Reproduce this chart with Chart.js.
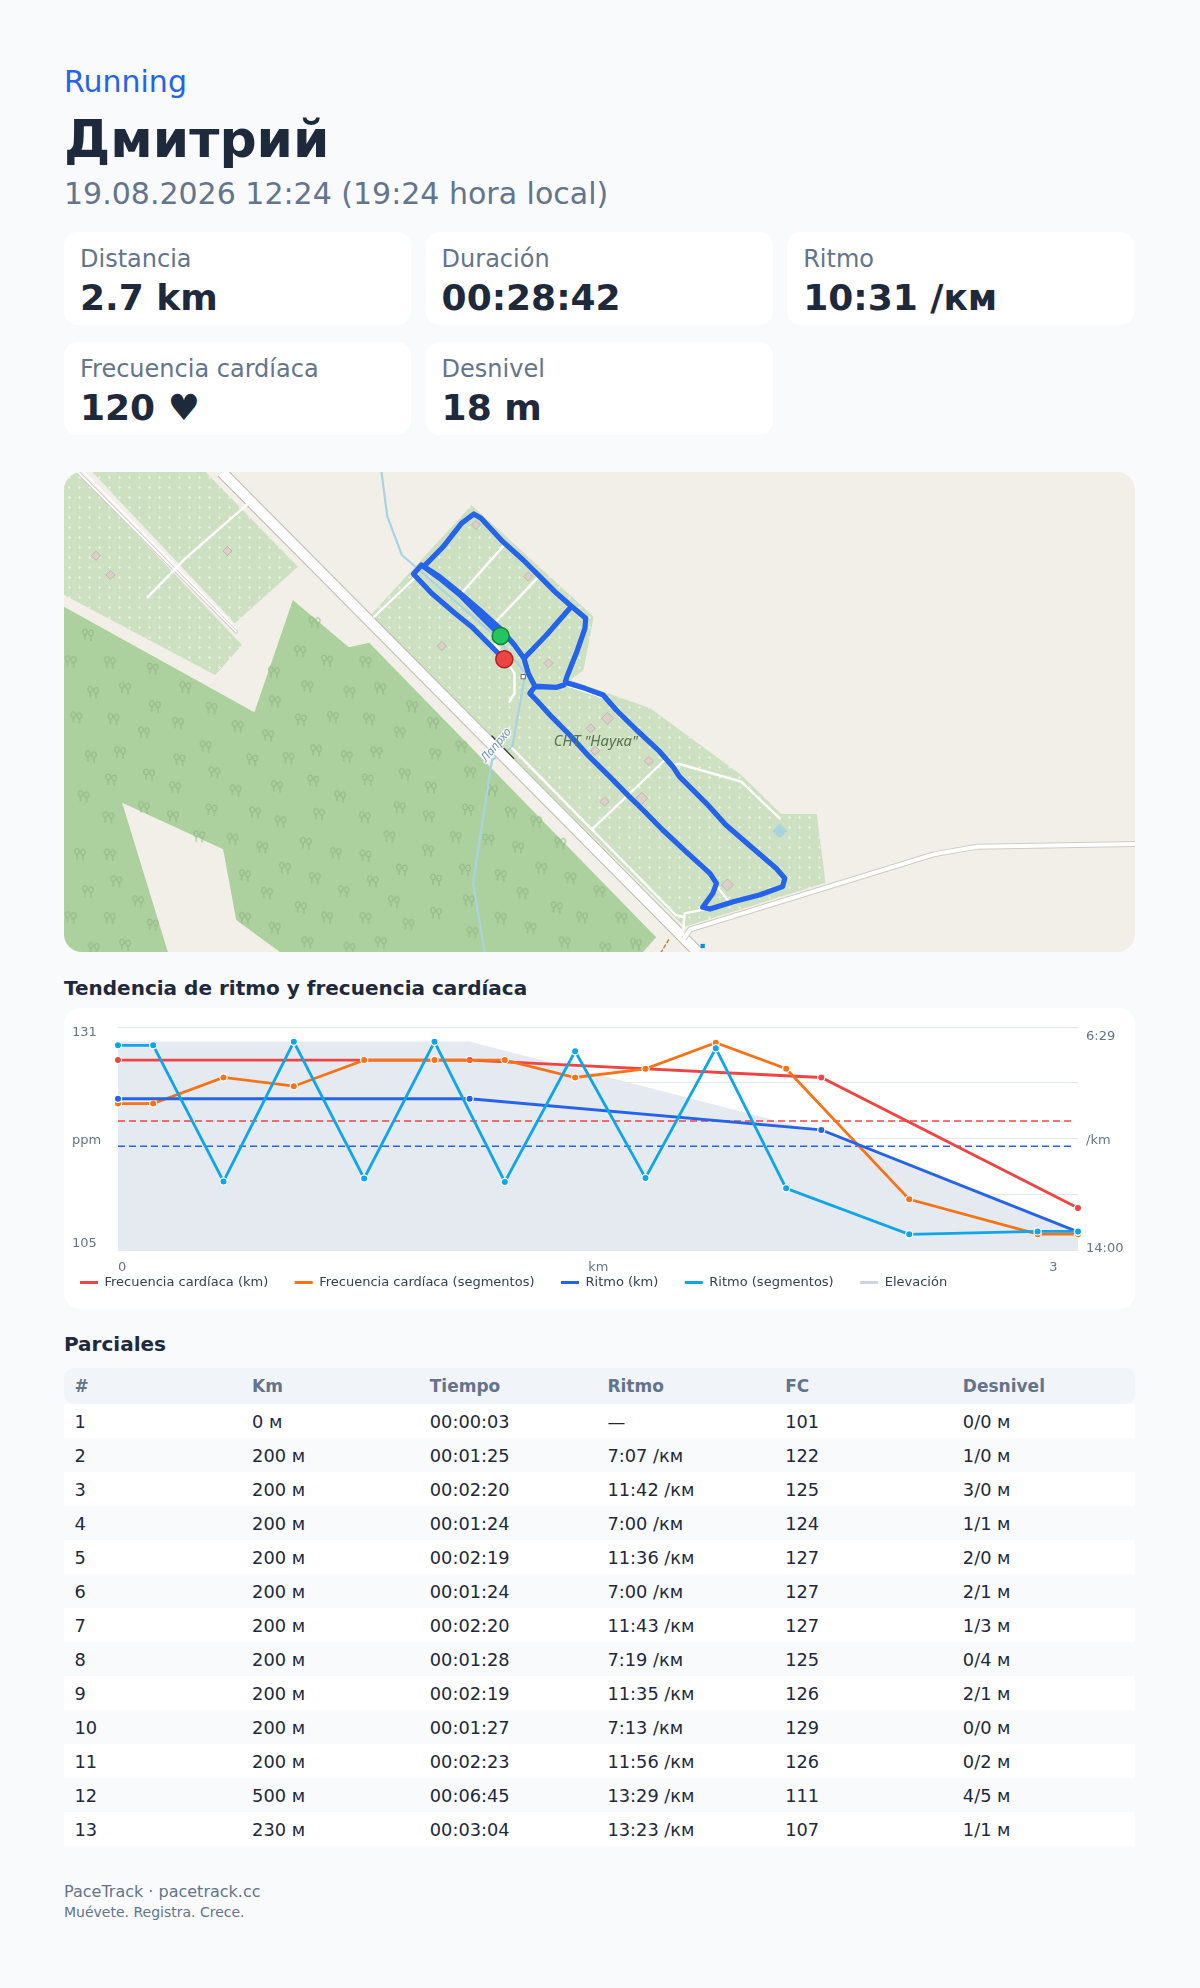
<!DOCTYPE html>
<html lang="es">
<head>
<meta charset="utf-8">
<title>Running</title>
<script src="https://cdn.jsdelivr.net/npm/chart.js@4/dist/chart.umd.min.js"></script>
<style>
  * { box-sizing: border-box; }
  html, body { margin: 0; background: #f8fafc; }
  body { width: 1200px; height: 1988px; padding: 64px 64px 0; font-family: "DejaVu Sans", sans-serif; color: #1e293b; overflow: hidden; }
  .sport { color: #2563eb; font-size: 30px; line-height: 36px; }
  h1 { margin: 11px 0 0; font-size: 52px; line-height: 56px; font-weight: 700; }
  .when { margin-top: 9px; color: #64748b; font-size: 30px; line-height: 36px; }
  .stats { display: grid; grid-template-columns: repeat(3, 347.2px); column-gap: 14.4px; row-gap: 17px; margin-top: 20px; }
  .stat { height: 93px; padding: 13px 16px; background: #fff; border-radius: 14px; }
  .stat .label { color: #64748b; font-size: 24px; line-height: 28px; }
  .stat .value { margin-top: 5px; font-size: 36px; line-height: 40px; font-weight: 700; }
  .map { position: relative; width: 1071px; height: 480px; margin-top: 37px; border-radius: 18px; overflow: hidden; background: #f2efe9; }
  h2 { margin: 0; font-size: 20px; line-height: 26px; font-weight: 700; }
  h2.trend { margin-top: 23px; }
  .chart-card { width: 1071px; height: 301px; margin-top: 7px; padding: 8px; background: #fff; border-radius: 16px; }
  h2.splits { margin-top: 22px; }
  table { width: 1071px; margin-top: 11px; border-collapse: collapse; table-layout: fixed; font-size: 17.8px; }
  th { width: 177.7px; height: 36px; padding: 0 10.4px; background: #f1f5f9; color: #64748b; font-size: 17px; text-align: left; font-weight: 700; }
  th:first-child { border-radius: 10px 0 0 10px; }
  th:last-child { width: auto; border-radius: 0 10px 10px 0; }
  td { height: 34px; padding: 0 10.4px; }
  tbody tr:nth-child(odd) { background: #fff; }
  .foot { margin-top: 35px; color: #64748b; font-size: 16px; line-height: 22px; }
  .foot small { display: block; font-size: 14px; line-height: 19px; }
</style>
</head>
<body>
  <div class="sport">Running</div>
  <h1>Дмитрий</h1>
  <div class="when">19.08.2026 12:24 (19:24 hora local)</div>
  <div class="stats" id="stats"></div>
  <div class="map"><canvas id="mapChart" width="1071" height="480"></canvas></div>
  <h2 class="trend">Tendencia de ritmo y frecuencia cardíaca</h2>
  <div class="chart-card"><canvas id="trendChart" width="1055" height="285"></canvas></div>
  <h2 class="splits">Parciales</h2>
  <table><thead id="splitsHead"></thead><tbody id="splitsBody"></tbody></table>
  <div class="foot">PaceTrack · pacetrack.cc<small>Muévete. Registra. Crece.</small></div>

<script>
// header cards
const statLabels = ['Distancia', 'Duración', 'Ritmo', 'Frecuencia cardíaca', 'Desnivel'];
const statValues = ['2.7 km', '00:28:42', '10:31 /км', '120 ♥', '18 m'];

// splits table
const splitColumns = ['#', 'Km', 'Tiempo', 'Ritmo', 'FC', 'Desnivel'];
const splitDist = ['0 м', '200 м', '200 м', '200 м', '200 м', '200 м', '200 м', '200 м', '200 м', '200 м', '200 м', '500 м', '230 м'];
const splitTime = ['00:00:03', '00:01:25', '00:02:20', '00:01:24', '00:02:19', '00:01:24', '00:02:20', '00:01:28', '00:02:19', '00:01:27', '00:02:23', '00:06:45', '00:03:04'];
const splitPace = ['—', '7:07 /км', '11:42 /км', '7:00 /км', '11:36 /км', '7:00 /км', '11:43 /км', '7:19 /км', '11:35 /км', '7:13 /км', '11:56 /км', '13:29 /км', '13:23 /км'];
const splitHr = [101, 122, 125, 124, 127, 127, 127, 125, 126, 129, 126, 111, 107];
const splitGain = ['0/0 м', '1/0 м', '3/0 м', '1/1 м', '2/0 м', '2/1 м', '1/3 м', '0/4 м', '2/1 м', '0/0 м', '0/2 м', '4/5 м', '1/1 м'];

// trend chart, km on x, pace in seconds per km
const kmPoints = [0, 1, 2, 2.73];
const hrByKm = [127, 127, 125, 110];
const paceByKm = [535, 535, 598, 804];
const elevationByKm = [18.7, 18.7, 10.6, 1.7];
const segmentPoints = [0, 0.1, 0.3, 0.5, 0.7, 0.9, 1.1, 1.3, 1.5, 1.7, 1.9, 2.25, 2.615, 2.73];
const hrBySegment = [122, 122, 125, 124, 127, 127, 127, 125, 126, 129, 126, 111, 107, 107];
const paceBySegment = [427, 427, 702, 420, 696, 420, 703, 439, 695, 433, 716, 809, 803, 803];
const avgHr = 120;
const avgPace = 631;
const xTickLabels = ['0', 'km', '3'];
const hrTickLabels = ['105', 'ppm', '131'];
const paceTickLabels = ['6:29', '/km', '14:00'];

// map, in picture units of the OSM render
const landLeft = [[33,36],[52,36],[278,555],[241,645],[33,405]];
const landRight = [[72,36],[228,36],[355,320],[268,490]];
const landMain = [[594,135],[762,470],[748,630],[730,660],[840,745],[965,945],[1020,1062],[1069,1062],[1081,1268],[887,1400],[453,470]];
const forest = [[33,440],[295,757],[348,420],[425,562],[453,548],[848,1432],[830,1476],[330,1476],[270,1380],[252,1168],[113,1028],[176,1476],[33,1476]];
const mainRoad = [[250,36],[905,1476]];
const sideRoad = [[1507,1152],[1290,1160],[1230,1183],[895,1408],[886,1436]];
const sideTrack = [[52,36],[270,515]];
const sideTrack2 = [[60,36],[270,505]];
const tracks = [
  [[288,128],[200,295],[148,412]],
  [[460,470],[520,345]],
  [[582,395],[637,260]],
  [[625,490],[684,355]],
  [[871,915],[880,912],[965,965],[1018,1075]],
  [[860,900],[761,1105]],
  [[650,865],[875,1365],[887,1372]],
  [[885,1425],[887,1360],[915,1348]],
  [[626,550],[653,640],[653,700],[646,725]],
  [[932,1280],[950,1330]],
  [[727,677],[775,712]]
];
const stream = [[470,36],[478,170],[498,285],[625,525],[668,640],[650,860],[622,900],[596,1270],[612,1476]];
const railCrossing = [[622,828],[652,895]];
const smallPath = [[865,1440],[855,1476]];
const route = [[634,528],[605,465],[578,405],[550,355],[528,320],[555,260],[580,190],[597,162],[607,175],[637,245],[665,300],[688,350],[711,400],[731,438],[751,475],[750,505],[738,580],[726,645],[723,665],[727,670],[750,685],[775,705],[793,750],[821,810],[853,875],[871,920],[880,950],[917,1030],[944,1095],[981,1165],[1013,1225],[1025,1255],[1022,1280],[990,1305],[954,1325],[922,1347],[912,1342],[926,1300],[931,1270],[922,1240],[889,1175],[857,1110],[830,1050],[811,1010],[784,950],[756,890],[729,825],[704,770],[683,720],[674,700],[681,680],[711,682],[721,675],[711,682],[681,678],[672,640],[666,595],[697,525],[731,440],[697,525],[666,595],[653,555],[633,505],[605,450],[578,400],[550,350],[525,315],[514,342],[539,400],[571,460],[594,500],[626,570],[639,598]];
const startPoint = [[634,528]];
const endPoint = [[639,598]];
const buildings = [[600,195],[672,350],[553,558],[700,610],[758,805],[764,872],[838,903],[777,1025],[97,345],[258,273],[77,287]];
const bigBuildings = [[781,775],[828,1015],[946,1275]];
const pond = [[1018,1113]];
const busStop = [[912,1458]];
const shelter = [[665,650]];
const trees = [[378,488],[66,525],[42,605],[96,608],[155,627],[73,697],[117,685],[200,683],[158,740],[236,745],[50,773],[101,778],[190,790],[143,818],[272,800],[322,637],[358,575],[395,603],[448,607],[368,680],[426,697],[468,686],[323,725],[512,740],[403,772],[359,780],[453,778],[541,790],[314,827],[495,818],[228,860],[110,878],[70,890],[192,900],[292,900],[342,895],[380,872],[422,890],[463,878],[544,883],[580,860],[240,938],[150,945],[98,960],[186,983],[269,992],[326,980],[376,963],[451,960],[502,943],[592,938],[60,1010],[413,1010],[538,983],[622,992],[143,1043],[94,1073],[183,1070],[236,1050],[296,1058],[384,1063],[495,1043],[447,1073],[535,1070],[589,1050],[648,1058],[331,1085],[683,1085],[265,1138],[306,1163],[366,1150],[219,1130],[481,1130],[572,1132],[617,1140],[716,1150],[534,1172],[407,1180],[448,1188],[658,1163],[55,1183],[96,1185],[337,1225],[378,1255],[282,1247],[458,1265],[498,1230],[545,1260],[585,1230],[634,1247],[690,1225],[730,1255],[105,1265],[66,1295],[418,1295],[664,1300],[770,1295],[135,1325],[312,1300],[487,1325],[590,1322],[711,1343],[359,1343],[545,1360],[42,1373],[96,1375],[155,1395],[282,1375],[395,1373],[448,1375],[507,1393],[634,1375],[675,1405],[746,1373],[800,1375],[323,1405],[368,1448],[117,1455],[74,1465],[426,1465],[469,1448],[595,1418],[722,1448],[778,1465],[820,1453]];
const mapLabels = ['СНТ "Наука"', 'Лапрхо'];

document.getElementById('stats').innerHTML = statLabels.map((label, i) =>
  `<div class="stat"><div class="label">${label}</div><div class="value">${statValues[i]}</div></div>`).join('');
document.getElementById('splitsHead').innerHTML = '<tr>' + splitColumns.map(c => `<th>${c}</th>`).join('') + '</tr>';
document.getElementById('splitsBody').innerHTML = splitDist.map((d, i) =>
  `<tr><td>${i + 1}</td><td>${d}</td><td>${splitTime[i]}</td><td>${splitPace[i]}</td><td>${splitHr[i]}</td><td>${splitGain[i]}</td></tr>`).join('');

// ---- trend chart ----
const xy = (xs, ys) => xs.map((x, i) => ({x, y: ys[i]}));
const tickFont = {family: '"DejaVu Sans"', size: 13};

function seriesLine(label, xs, ys, color, axis, order) {
  return {
    label, data: xy(xs, ys), yAxisID: axis, order, clip: false,
    borderColor: color, backgroundColor: color, borderWidth: 2.8,
    pointRadius: 3.6, pointBorderColor: '#fff', pointBorderWidth: 1.2, pointBackgroundColor: color
  };
}

function dashLine(label, value, color, axis) {
  return {
    label, data: xy([0, 2.72], [value, value]), yAxisID: axis, order: 3.5,
    borderColor: color, borderWidth: 1.5, borderDash: [7, 4], pointRadius: 0, isAverage: true
  };
}

// the legend starts further in than its item gap allows, so it is moved after layout
const legendPlace = {
  id: 'legendPlace',
  afterLayout(chart) {
    chart.legend.left = -18.5;
    chart.legend.top = 233.5;
  }
};

new Chart(document.getElementById('trendChart'), {
  type: 'line',
  plugins: [legendPlace],
  data: {
    datasets: [
      seriesLine('Frecuencia cardíaca (km)', kmPoints, hrByKm, '#ef4444', 'hr', 3),
      seriesLine('Frecuencia cardíaca (segmentos)', segmentPoints, hrBySegment, '#f97316', 'hr', 2),
      seriesLine('Ritmo (km)', kmPoints, paceByKm, '#2563eb', 'pace', 1),
      seriesLine('Ritmo (segmentos)', segmentPoints, paceBySegment, '#0ea5e9', 'pace', 0),
      {
        label: 'Elevación', data: xy(kmPoints, elevationByKm), yAxisID: 'elev', order: 4,
        backgroundColor: '#cbd5e1', borderWidth: 0, pointRadius: 0,
        fill: {target: 'origin', above: '#e5e9f0'}
      },
      dashLine('Media FC', avgHr, '#ef4444', 'hr'),
      dashLine('Media ritmo', avgPace, '#2563eb', 'pace')
    ]
  },
  options: {
    responsive: false,
    animation: false,
    layout: {autoPadding: false, padding: {top: 11, bottom: 0}},
    plugins: {
      tooltip: {enabled: false},
      legend: {
        position: 'bottom',
        align: 'start',
        maxHeight: 12,
        labels: {
          boxWidth: 18, boxHeight: 3, padding: 26.5, color: '#334155', font: tickFont,
          generateLabels: chart => Chart.defaults.plugins.legend.labels.generateLabels(chart).map(l => ({...l, lineWidth: 0})),
          filter: (item, data) => !data.datasets[item.datasetIndex].isAverage,
          sort: (a, b) => a.datasetIndex - b.datasetIndex
        }
      }
    },
    scales: {
      x: {
        type: 'linear', min: 0, max: 2.73,
        grid: {display: false, drawTicks: false}, border: {display: false},
        afterFit(scale) { scale.height = 38.3; scale.paddingLeft = 0; scale.paddingRight = 0; },
        afterBuildTicks(scale) { scale.ticks = [0.012, 1.366, 2.66].map(value => ({value})); },
        ticks: {
          autoSkip: false, maxRotation: 0, padding: 9, color: '#64748b', font: tickFont,
          callback: (v, i) => xTickLabels[i]
        }
      },
      // the horizontal rules have their own empty axis, labels sit a little inside them
      rows: {
        position: 'left', min: 0, max: 4,
        grid: {color: '#e2e8f0', drawTicks: false}, border: {display: false},
        afterFit(scale) { scale.width = 0; scale.paddingTop = 0; scale.paddingBottom = 0; },
        ticks: {display: false, stepSize: 1}
      },
      hr: {
        position: 'left', min: 105.1, max: 130.8,
        grid: {display: false, drawTicks: false}, border: {display: false},
        afterFit(scale) { scale.width = 46; scale.paddingTop = 0; scale.paddingBottom = 0; },
        afterBuildTicks(scale) { scale.ticks = [105.87, 117.78, 130.11].map(value => ({value})); },
        ticks: {
          autoSkip: false, crossAlign: 'far', padding: 0, color: '#64748b', font: tickFont,
          callback: (v, i) => hrTickLabels[i]
        }
      },
      pace: {
        position: 'right', reverse: true, min: 390, max: 842,
        grid: {display: false, drawTicks: false}, border: {display: false},
        afterFit(scale) { scale.width = 49; scale.paddingTop = 0; scale.paddingBottom = 0; },
        afterBuildTicks(scale) { scale.ticks = [410, 619, 837].map(value => ({value})); },
        ticks: {
          autoSkip: false, padding: 8, color: '#64748b', font: tickFont,
          callback: (v, i) => paceTickLabels[i]
        }
      },
      elev: {display: false, min: 0, max: 20}
    }
  }
});

// ---- map chart ----
function dotPattern() {
  const c = document.createElement('canvas');
  c.width = 10; c.height = 10;
  const g = c.getContext('2d');
  g.fillStyle = '#cde0c1';
  g.fillRect(0, 0, 10, 10);
  g.fillStyle = '#e6f0de';
  g.fillRect(4, 5, 3, 1);
  g.fillRect(5, 4, 1, 3);
  return g.createPattern(c, 'repeat');
}

function treeIcon() {
  const c = document.createElement('canvas');
  c.width = 16; c.height = 16;
  const g = c.getContext('2d');
  g.strokeStyle = '#8fb584';
  g.lineWidth = 1;
  [[5, 5], [11, 6]].forEach(([x, y]) => {
    g.beginPath();
    g.ellipse(x, y, 2.3, 3, 0, 0, Math.PI * 2);
    g.moveTo(x, y + 3);
    g.lineTo(x, y + 8);
    g.stroke();
  });
  return c;
}

const pts = list => list.map(([x, y]) => ({x, y}));
const area = (list, fillStyle) => ({type: 'scatter', data: pts(list), showLine: true, fill: 'shape', backgroundColor: fillStyle, borderWidth: 0, pointRadius: 0});
const way = (list, color, width, extra) => ({type: 'scatter', data: pts(list), showLine: true, fill: false, borderColor: color, borderWidth: width, pointRadius: 0, borderCapStyle: 'round', borderJoinStyle: 'round', ...extra});
const marks = (list, style, radius, fill, stroke, width) => ({type: 'scatter', data: pts(list), pointStyle: style, pointRadius: radius, pointBackgroundColor: fill, pointBorderColor: stroke, pointBorderWidth: width});

const dots = dotPattern();
const layers = [
  area(forest, '#add19e'),
  marks(trees, treeIcon(), 8, 'transparent', 'transparent', 0),
  area(landLeft, dots),
  area(landRight, dots),
  area(landMain, dots),
  way(stream, '#aad3df', 2.2),
  way(sideTrack, '#c9c5bd', 3.5),
  way(sideTrack, '#fff', 2),
  way(sideTrack2, '#fff', 1.6),
  way(mainRoad, '#bdb9b1', 12, {borderCapStyle: 'butt'}),
  way(mainRoad, '#fff', 10, {borderCapStyle: 'butt'}),
  way(railCrossing, '#333', 1.2),
  way(smallPath, '#b8863f', 1.5, {borderDash: [3, 3]}),
  way(sideRoad, '#cfcbc4', 6, {borderCapStyle: 'butt'}),
  way(sideRoad, '#fff', 4, {borderCapStyle: 'butt'}),
  ...tracks.map(t => way(t, '#fff', 2.4)),
  marks(buildings, 'rectRot', 4.5, '#d9d0c9', '#c4b6ab', 1),
  marks(bigBuildings, 'rectRot', 6, '#d9d0c9', '#c4b6ab', 1),
  marks(pond, 'rectRot', 7.5, '#aad3df', '#aad3df', 0),
  marks(busStop, 'rect', 3, '#0092da', '#0092da', 0),
  marks(shelter, 'rect', 3, '#fff', '#666', 1),
  way(route, '#2563eb', 5.2),
  marks(startPoint, 'circle', 8.5, '#22c55e', '#15803d', 1.5),
  marks(endPoint, 'circle', 8.5, '#ef4444', '#b91c1c', 1.5)
];
layers.forEach((layer, i) => { layer.order = layers.length - i; });

// place names of the map, written with the library's scales
const mapText = {
  id: 'mapText',
  afterDatasetsDraw(chart) {
    const {ctx, scales} = chart;
    ctx.save();
    ctx.textAlign = 'center';
    ctx.textBaseline = 'middle';
    ctx.font = 'italic 15px "Noto Sans"';
    ctx.fillStyle = '#5a7350';
    ctx.fillText(mapLabels[0], scales.x.getPixelForValue(765), scales.y.getPixelForValue(845));
    ctx.translate(scales.x.getPixelForValue(628), scales.y.getPixelForValue(855));
    ctx.rotate(-50 * Math.PI / 180);
    ctx.font = 'italic 12px "Noto Sans"';
    ctx.lineWidth = 2.5;
    ctx.strokeStyle = 'rgba(255,255,255,0.8)';
    ctx.strokeText(mapLabels[1], 0, 0);
    ctx.fillStyle = '#6d94b8';
    ctx.fillText(mapLabels[1], 0, 0);
    ctx.restore();
  }
};

new Chart(document.getElementById('mapChart'), {
  type: 'scatter',
  plugins: [mapText],
  data: {datasets: layers},
  options: {
    responsive: false,
    animation: false,
    layout: {autoPadding: false},
    plugins: {legend: {display: false}, tooltip: {enabled: false}},
    scales: {
      x: {type: 'linear', display: false, min: 33, max: 1507},
      y: {type: 'linear', display: false, min: 36, max: 1476, reverse: true}
    }
  }
});
</script>
</body>
</html>
